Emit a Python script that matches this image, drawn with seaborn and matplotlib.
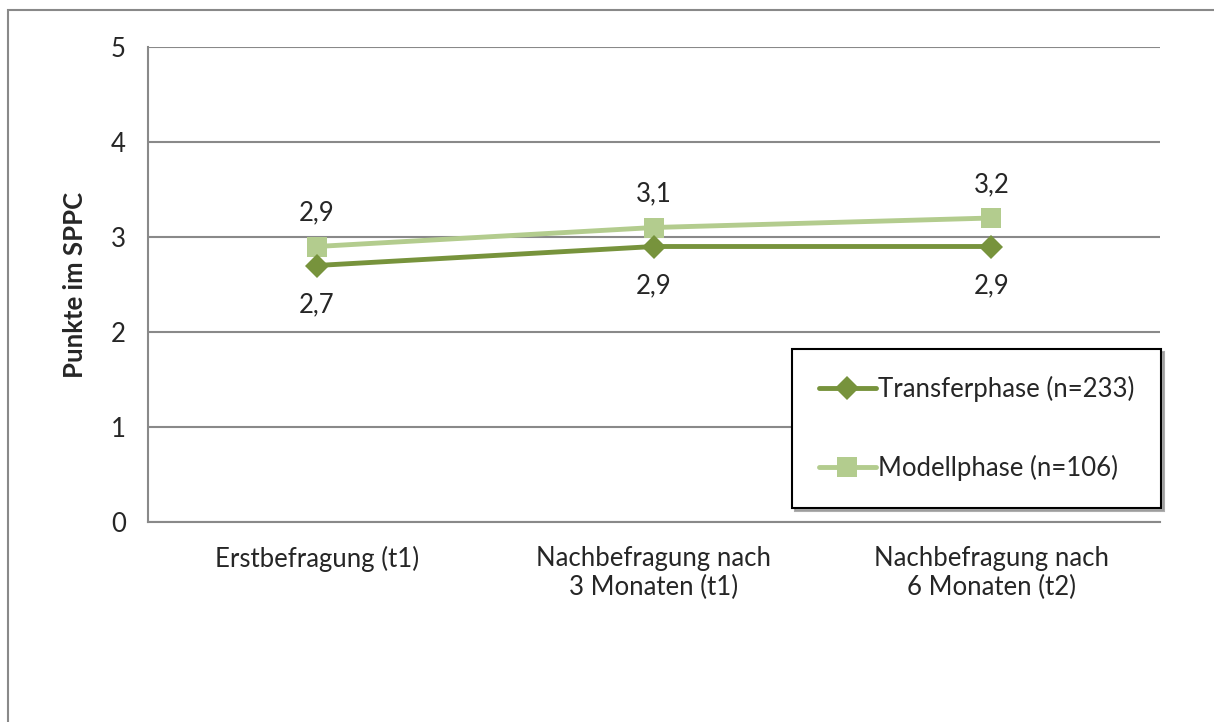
import matplotlib
matplotlib.use("Agg")
import matplotlib.pyplot as plt
import seaborn as sns
import pandas as pd
from matplotlib.patches import Rectangle

# data
categories = ["Erstbefragung (t1)", "Nachbefragung nach\n3 Monaten (t1)", "Nachbefragung nach\n6 Monaten (t2)"]
transfer = [2.7, 2.9, 2.9]
modell = [2.9, 3.1, 3.2]
series_names = ["Transferphase (n=233)", "Modellphase (n=106)"]
y_ticks = [0, 1, 2, 3, 4, 5]

dark_green = "#77933C"
light_green = "#B3CC8E"
grid_gray = "#898989"
fs = 18.5

sns.set_style("white")
plt.rcParams["font.family"] = ["Lato", "DejaVu Sans"]

df = pd.DataFrame({
    "x": list(range(len(categories))) * 2,
    "wert": transfer + modell,
    "serie": [series_names[0]] * 3 + [series_names[1]] * 3,
})

fig = plt.figure(figsize=(12.14, 7.22), dpi=100)
ax = fig.add_axes([148 / 1214, 1 - 522 / 722, (1160 - 148) / 1214, (522 - 47) / 722])

# outer chart border
fig.patches.append(Rectangle((8 / 1214, -0.05), 1.2, 1 - 10 / 722 + 0.05,
                             transform=fig.transFigure, fill=False,
                             edgecolor=grid_gray, linewidth=1.5, zorder=0))

sns.lineplot(data=df, x="x", y="wert", hue="serie", style="serie",
             palette={series_names[0]: dark_green, series_names[1]: light_green},
             markers={series_names[0]: "D", series_names[1]: "s"}, dashes=False,
             linewidth=3.5, markeredgewidth=0, ax=ax,
             hue_order=series_names[::-1], style_order=series_names[::-1])
for line in ax.lines:
    if line.get_marker() == "D":
        line.set_markersize(12.5)
    else:
        line.set_markersize(14.5)

# data labels
for i, v in enumerate(transfer):
    ax.annotate(f"{v:.1f}".replace(".", ","), (i, v), xytext=(0, -28), textcoords="offset points",
                ha="center", va="center", fontsize=fs)
for i, v in enumerate(modell):
    ax.annotate(f"{v:.1f}".replace(".", ","), (i, v), xytext=(0, 24), textcoords="offset points",
                ha="center", va="center", fontsize=fs)

ax.set_ylim(0, 5)
ax.set_xlim(-0.5, len(categories) - 0.5)
ax.set_yticks(y_ticks)
ax.set_yticklabels([str(t) for t in y_ticks], fontsize=fs)
ax.set_xticks(range(len(categories)))
ax.set_xticklabels(categories, fontsize=fs, linespacing=1.2)
ax.set_xticks([i - 0.5 for i in range(len(categories) + 1)], minor=True)
ax.tick_params(axis="x", which="major", length=0, pad=17)
ax.tick_params(axis="x", which="minor", length=6, color=grid_gray, width=1.5, direction="out")
ax.tick_params(axis="y", length=6, color=grid_gray, width=1.5, direction="out", pad=10)
ax.yaxis.grid(True, color=grid_gray, linewidth=1.5)
ax.set_axisbelow(True)
for side in ["top", "right"]:
    ax.spines[side].set_visible(False)
for side in ["left", "bottom"]:
    ax.spines[side].set_color(grid_gray)
    ax.spines[side].set_linewidth(1.5)

ax.set_xlabel("")
ax.set_ylabel("Punkte im SPPC", fontsize=fs, fontweight="bold", labelpad=17)

handles, labels = ax.get_legend_handles_labels()
order = [labels.index(n) for n in series_names]
leg = ax.legend([handles[i] for i in order], [labels[i] for i in order],
                loc="upper left", bbox_to_anchor=((792 - 148) / 1012, (522 - 349) / 475),
                frameon=True, fancybox=False, shadow={"color": "0.6", "alpha": 0.8},
                fontsize=fs, labelspacing=2.05, handlelength=2.2, handletextpad=0.1,
                borderpad=1.05, borderaxespad=0)
leg.get_frame().set_edgecolor("black")
leg.get_frame().set_linewidth(1.5)

fig.savefig("out.png", dpi=100)
